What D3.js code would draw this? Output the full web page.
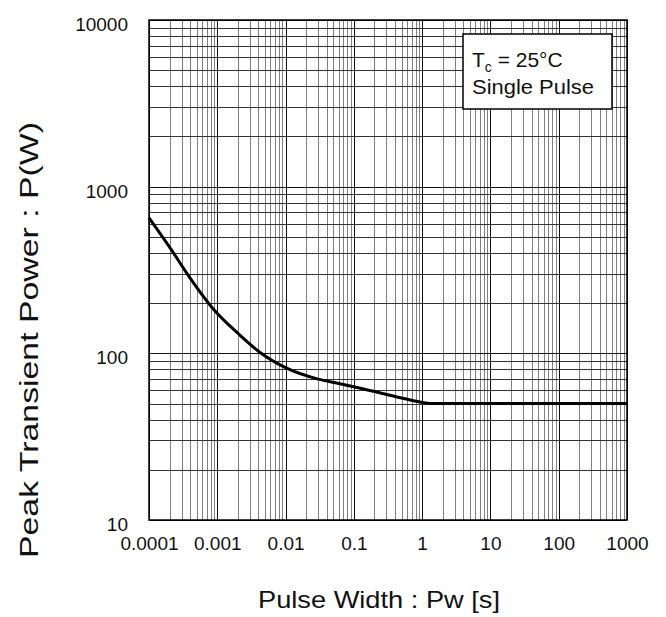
<!DOCTYPE html>
<html>
<head>
<meta charset="utf-8">
<script src="https://cdn.jsdelivr.net/npm/d3@7"></script>
<style>
  body { margin: 0; background: #fff; }
  svg text { font-family: "Liberation Sans", Arial, sans-serif; fill: #111; }
</style>
</head>
<body>
<div id="chart"></div>
<script>
// pulse width (s) and peak power (W)
var pulseWidth = [0.0001, 0.0002, 0.0004, 0.0009, 0.002, 0.004, 0.01, 0.03, 0.06, 0.12, 0.5, 0.93, 1.35, 1000];
var peakPower  = [650, 434, 283, 182, 132, 103, 82, 70, 66, 62, 54, 51, 50, 50];

var xTicks = [0.0001, 0.001, 0.01, 0.1, 1, 10, 100, 1000];
var xTickLabels = ["0.0001", "0.001", "0.01", "0.1", "1", "10", "100", "1000"];
var yTicks = [10, 100, 1000, 10000];
var yTickLabels = ["10", "100", "1000", "10000"];

var W = 666, H = 617;
var margin = {top: 20, right: 39, bottom: 97, left: 149};
var width = W - margin.left - margin.right,
    height = H - margin.top - margin.bottom;

var svg = d3.select("#chart").append("svg")
    .attr("width", W)
    .attr("height", H);

var g = svg.append("g")
    .attr("transform", "translate(" + margin.left + "," + margin.top + ")");

var x = d3.scaleLog().domain([0.0001, 1000]).range([0, width]);
var y = d3.scaleLog().domain([10, 10000]).range([height, 0]);

// grid lines, 1..9 in every decade
function minorValues(lo, hi) {
  var out = [];
  for (var e = lo; e < hi; e++) {
    for (var m = 1; m < 10; m++) out.push(m * Math.pow(10, e));
  }
  out.push(Math.pow(10, hi));
  return out;
}
var xGrid = minorValues(-4, 3);
var yGrid = minorValues(1, 4);

function isMajor(v) {
  var l = Math.log10(v);
  return Math.abs(l - Math.round(l)) < 1e-9;
}

g.append("g").selectAll("line")
  .data(xGrid)
  .enter().append("line")
    .attr("x1", function(d) { return Math.round(x(d)) + 0.5; })
    .attr("x2", function(d) { return Math.round(x(d)) + 0.5; })
    .attr("y1", 0)
    .attr("y2", height)
    .attr("stroke", function(d) { return isMajor(d) ? "#111" : "#808080"; })
    .attr("stroke-width", 1);

g.append("g").selectAll("line")
  .data(yGrid)
  .enter().append("line")
    .attr("y1", function(d) { return Math.round(y(d)) + 0.5; })
    .attr("y2", function(d) { return Math.round(y(d)) + 0.5; })
    .attr("x1", 0)
    .attr("x2", width)
    .attr("stroke", function(d) { return isMajor(d) ? "#111" : "#333"; })
    .attr("stroke-width", 1);

// frame
g.append("rect")
  .attr("x", 0).attr("y", 0)
  .attr("width", width).attr("height", height)
  .attr("fill", "none")
  .attr("stroke", "#000")
  .attr("stroke-width", 1.5);

// axes (labels only)
var xAxis = d3.axisBottom(x).tickValues(xTicks)
    .tickFormat(function(d, i) { return xTickLabels[i]; })
    .tickSize(0).tickPadding(17);
var gx = g.append("g").attr("transform", "translate(0," + height + ")").call(xAxis);
gx.select(".domain").remove();
gx.selectAll("text").style("font-size", "19px").attr("fill", "#111");

var yAxis = d3.axisLeft(y).tickValues(yTicks)
    .tickFormat(function(d, i) { return yTickLabels[i]; })
    .tickSize(0).tickPadding(21);
var gy = g.append("g").call(yAxis);
gy.select(".domain").remove();
gy.selectAll("text").style("font-size", "19px").attr("fill", "#111").attr("dy", "0.55em");

// curve
var data = pulseWidth.map(function(d, i) { return [d, peakPower[i]]; });
var line = d3.line()
    .x(function(d) { return x(d[0]); })
    .y(function(d) { return y(d[1]); })
    .curve(d3.curveMonotoneX);

g.append("path")
  .datum(data)
  .attr("d", line)
  .attr("fill", "none")
  .attr("stroke", "#000")
  .attr("stroke-width", 3);

// annotation box
var box = svg.append("g").attr("transform", "translate(463,34)");
box.append("rect")
  .attr("width", 149).attr("height", 75)
  .attr("fill", "#fff")
  .attr("stroke", "#000")
  .attr("stroke-width", 1.5);
var t1 = box.append("text").attr("x", 9).attr("y", 33).style("font-size", "21px");
t1.append("tspan").text("T");
t1.append("tspan").attr("dy", 5).style("font-size", "14px").text("c");
t1.append("tspan").attr("dy", -5).text(" = 25\u00B0C");
box.append("text").attr("x", 9).attr("y", 60).style("font-size", "21px")
  .attr("textLength", 122).attr("lengthAdjust", "spacingAndGlyphs")
  .text("Single Pulse");

// axis titles
svg.append("text")
  .attr("x", 258).attr("y", 608)
  .style("font-size", "24px")
  .attr("textLength", 242).attr("lengthAdjust", "spacingAndGlyphs")
  .text("Pulse Width : Pw [s]");

svg.append("text")
  .attr("transform", "translate(38,558) rotate(-90)")
  .style("font-size", "26px")
  .attr("textLength", 436).attr("lengthAdjust", "spacingAndGlyphs")
  .text("Peak Transient Power : P(W)");
</script>
</body>
</html>
